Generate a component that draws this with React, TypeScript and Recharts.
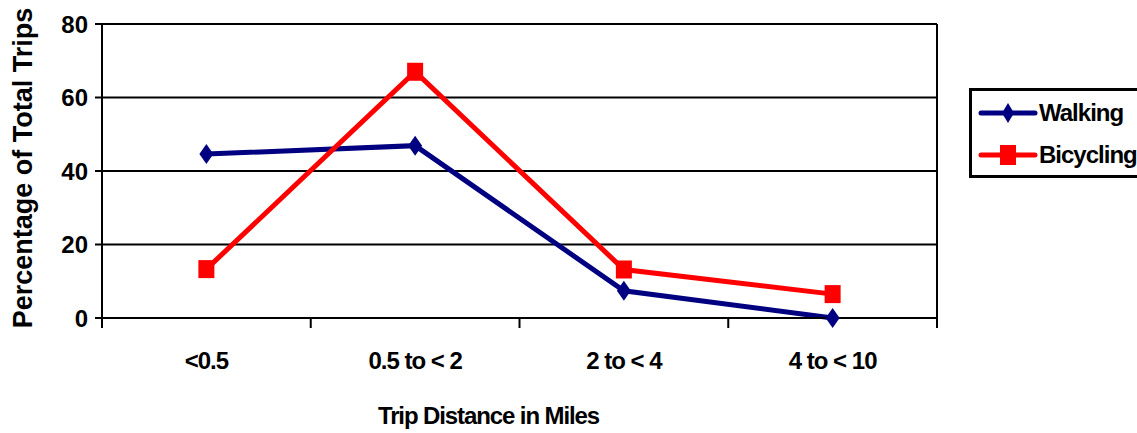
import React from 'react';
import { LineChart, Line, XAxis, YAxis, CartesianGrid, Label } from 'recharts';

const categories = ['<0.5', '0.5 to < 2', '2 to < 4', '4 to < 10'];
const walking = [44.6, 46.9, 7.4, 0];
const bicycling = [13.3, 67.0, 13.2, 6.5];
const yTicks = [0, 20, 40, 60, 80];
const boundaryTicks = [0, 1, 2, 3, 4];
const seriesNames = ['Walking', 'Bicycling'];
const seriesKeys = ['walking', 'bicycling'];
const seriesColors = ['#000080', '#FF0000'];
const xTitle = 'Trip Distance in Miles';
const yTitle = 'Percentage of Total Trips';

const data = categories.map((c, i) => ({ cat: c, walking: walking[i], bicycling: bicycling[i] }));
const catIndex = (d: any) => categories.indexOf(d.cat) + 0.5;

const FONT = '"Liberation Sans", Arial, sans-serif';

const Diamond = (props: any) => {
  const { cx, cy, fill } = props;
  if (cx == null || cy == null) return null;
  return <polygon points={`${cx},${cy - 10} ${cx + 7},${cy} ${cx},${cy + 10} ${cx - 7},${cy}`} fill={fill} />;
};
const Square = (props: any) => {
  const { cx, cy, fill } = props;
  if (cx == null || cy == null) return null;
  return <rect x={cx - 8} y={cy - 9} width={16} height={18} fill={fill} />;
};

const LegendBox = () => (
  <div
    style={{
      position: 'absolute',
      left: 969,
      top: 88,
      border: '3px solid #000',
      width: 172,
      height: 90,
      boxSizing: 'border-box',
      background: '#fff',
      fontFamily: FONT,
      fontWeight: 'bold',
      fontSize: 24,
      letterSpacing: -1,
      padding: '1px 0 0 6px',
    }}
  >
    {seriesNames.map((n, i) => (
      <div key={n} style={{ display: 'flex', alignItems: 'center', height: 42 }}>
        <svg width={60} height={24} style={{ display: 'block' }}>
          <line x1={3} y1={12} x2={57} y2={12} stroke={seriesColors[i]} strokeWidth={5} strokeLinecap="round" />
          {i === 0 ? (
            <polygon points="30,2 36,12 30,22 24,12" fill={seriesColors[i]} />
          ) : (
            <rect x={22} y={2} width={16} height={20} fill={seriesColors[i]} />
          )}
        </svg>
        <span style={{ marginLeft: 1, color: '#000' }}>{n}</span>
      </div>
    ))}
  </div>
);

export default function App() {
  return (
    <div style={{ position: 'absolute', left: 0, top: 0, width: 1137, height: 433, background: '#fff', overflow: 'hidden' }}>
      <LineChart width={1137} height={433} data={data} margin={{ top: 24, right: 199, bottom: 0, left: 0 }}>
        <CartesianGrid horizontal vertical={false} stroke="#000" strokeWidth={2} xAxisId="b" yAxisId="l" />
        <XAxis
          xAxisId="a"
          type="number"
          dataKey={catIndex}
          domain={[0, categories.length]}
          allowDataOverflow
          ticks={boundaryTicks}
          tickFormatter={() => ''}
          tickSize={10}
          tickMargin={0}
          height={10}
          axisLine={{ stroke: '#000', strokeWidth: 2 }}
          tickLine={{ stroke: '#000', strokeWidth: 2 }}
        />
        <XAxis
          xAxisId="b"
          dataKey="cat"
          type="category"
          scale="band"
          axisLine={false}
          tickLine={false}
          tickSize={0}
          tickMargin={24}
          height={105}
          interval={0}
          tick={{ fill: '#000', fontSize: 24, fontWeight: 'bold', fontFamily: FONT, letterSpacing: -1 }}
        >
          <Label
            content={(p: any) => {
              const vb = p.viewBox;
              return (
                <text
                  x={vb.x + vb.width / 2 - 31}
                  y={vb.y + vb.height - 9}
                  textAnchor="middle"
                  fill="#000"
                  fontSize={24}
                  fontWeight="bold"
                  fontFamily={FONT}
                  letterSpacing={-1.1}
                >
                  {xTitle}
                </text>
              );
            }}
          />
        </XAxis>
        <YAxis
          yAxisId="l"
          domain={[0, 80]}
          ticks={yTicks}
          width={102}
          tickSize={7}
          tickMargin={7}
          axisLine={{ stroke: '#000', strokeWidth: 2 }}
          tickLine={{ stroke: '#000', strokeWidth: 2 }}
          tick={{ fill: '#000', fontSize: 24, fontWeight: 'bold', fontFamily: FONT }}
        >
          <Label
            content={(p: any) => {
              const vb = p.viewBox;
              const cx = 32;
              const cy = vb.y + vb.height / 2 - 3;
              return (
                <text
                  x={cx}
                  y={cy}
                  transform={`rotate(-90, ${cx}, ${cy})`}
                  textAnchor="middle"
                  fill="#000"
                  fontSize={27}
                  fontWeight="bold"
                  fontFamily={FONT}
                >
                  {yTitle}
                </text>
              );
            }}
          />
        </YAxis>
        <YAxis
          yAxisId="r"
          orientation="right"
          domain={[0, 80]}
          ticks={yTicks}
          width={1}
          tick={false}
          tickLine={false}
          axisLine={{ stroke: '#000', strokeWidth: 2 }}
        />
        {seriesKeys.map((k, i) => (
          <Line
            key={k}
            xAxisId="b"
            yAxisId="l"
            dataKey={k}
            name={seriesNames[i]}
            stroke={seriesColors[i]}
            strokeWidth={5}
            fill={seriesColors[i]}
            dot={i === 0 ? <Diamond fill={seriesColors[i]} /> : <Square fill={seriesColors[i]} />}
            activeDot={false}
            isAnimationActive={false}
          />
        ))}
      </LineChart>
      <LegendBox />
    </div>
  );
}
